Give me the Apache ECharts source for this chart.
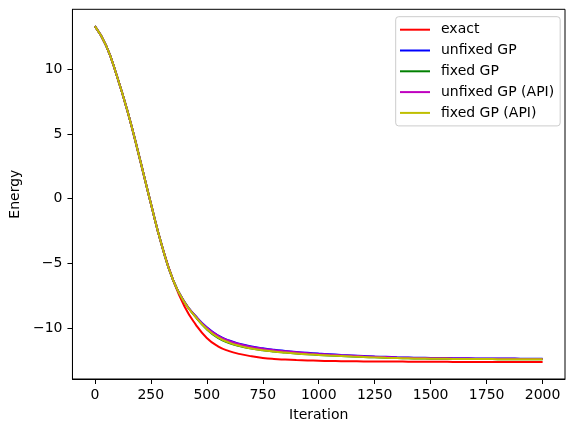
<!DOCTYPE html>
<html>
<head>
<meta charset="utf-8">
<script src="https://cdn.jsdelivr.net/npm/echarts@6/dist/echarts.min.js"></script>
<style>
html,body{margin:0;padding:0;background:#fff;}
#chart{width:574px;height:432px;}
</style>
</head>
<body>
<div id="chart"></div>
<script>
// ---- data ----
const iterations = [0,50,100,150,200,250,300,350,400,450,500,550,600,650,700,750,800,850,900,950,1000,
  1050,1100,1150,1200,1250,1300,1350,1400,1450,1500,1550,1600,1650,1700,1750,1800,1850,1900,1950,2000];
// shared start (iterations 0..350)
const common = [13.33,11.85,9.4,6.5,3.15,-0.35,-3.65,-6.3];
// iterations 400..2000
const exactTail = [-8.3,-9.7,-10.75,-11.4,-11.77,-12.0,-12.17,-12.29,-12.37,-12.42,-12.46,-12.49,-12.51,
  -12.53,-12.54,-12.55,-12.56,-12.56,-12.57,-12.57,-12.58,-12.58,-12.59,-12.59,
  -12.6,-12.6,-12.6,-12.6,-12.6,-12.6,-12.6,-12.6,-12.6];
const unfixedGPTail = [-7.97,-9.05,-9.93,-10.55,-10.95,-11.22,-11.41,-11.55,-11.66,-11.75,-11.83,-11.9,-11.96,
  -12.01,-12.06,-12.1,-12.14,-12.18,-12.21,-12.24,-12.26,-12.28,-12.29,-12.3,
  -12.31,-12.32,-12.33,-12.33,-12.34,-12.34,-12.35,-12.35,-12.35];
const fixedGPTail = [-7.96,-9.13,-10.08,-10.74,-11.14,-11.4,-11.57,-11.7,-11.8,-11.88,-11.95,-12.01,-12.06,
  -12.11,-12.15,-12.19,-12.22,-12.25,-12.28,-12.3,-12.32,-12.34,-12.35,-12.36,
  -12.37,-12.37,-12.38,-12.38,-12.39,-12.39,-12.4,-12.4,-12.4];
const unfixedAPITail = [-7.98,-9.07,-9.96,-10.58,-10.98,-11.25,-11.44,-11.58,-11.69,-11.78,-11.86,-11.93,-11.99,
  -12.04,-12.09,-12.13,-12.17,-12.2,-12.23,-12.26,-12.28,-12.3,-12.31,-12.32,
  -12.33,-12.34,-12.35,-12.35,-12.36,-12.36,-12.37,-12.37,-12.37];
const fixedAPITail = [-8.0,-9.12,-10.06,-10.71,-11.11,-11.38,-11.56,-11.69,-11.8,-11.88,-11.95,-12.01,-12.06,
  -12.11,-12.15,-12.19,-12.22,-12.25,-12.28,-12.3,-12.32,-12.34,-12.35,-12.36,
  -12.37,-12.37,-12.38,-12.38,-12.39,-12.39,-12.4,-12.4,-12.4];
const seriesNames = ['exact','unfixed GP','fixed GP','unfixed GP (API)','fixed GP (API)'];
const seriesColors = ['#ff0000','#0000ff','#008000','#bf00bf','#bfbf00'];
const xTicks = [0,250,500,750,1000,1250,1500,1750,2000];
const yTicks = [-10,-5,0,5,10];

// ---- build ----
const tails = [exactTail, unfixedGPTail, fixedGPTail, unfixedAPITail, fixedAPITail];
function pairs(tail){
  const vals = common.concat(tail);
  return iterations.map((x,i)=>[x, vals[i]]);
}
const font = 'DejaVu Sans';
const chart = echarts.init(document.getElementById('chart'), null, {renderer:'canvas'});
chart.setOption({
  animation:false,
  backgroundColor:'#fff',
  textStyle:{fontFamily:font},
  grid:{left:69.3, right:9, top:9.3, bottom:53, show:true, borderColor:'#000', borderWidth:1, backgroundColor:'transparent'},
  legend:{
    orient:'vertical',
    left:395.7, top:16.7,
    data:seriesNames.map(n=>({name:n, icon:'rect'})),
    itemWidth:30, itemHeight:2, itemGap:4.8,
    padding:[5,6,5,4.3],
    backgroundColor:'rgba(255,255,255,0.8)',
    borderColor:'#cccccc', borderWidth:1, borderRadius:3,
    textStyle:{fontFamily:font, fontSize:14, color:'#000', padding:[0,0,0,6], lineHeight:16}
  },
  xAxis:{
    type:'value', min:-100, max:2100,
    name:'Iteration', nameLocation:'middle', nameGap:29,
    nameTextStyle:{fontFamily:font, fontSize:14, color:'#000'},
    axisLine:{show:true, onZero:false, lineStyle:{color:'#000', width:1}},
    axisTick:{show:true, length:5, lineStyle:{color:'#000', width:1}, customValues:xTicks},
    axisLabel:{fontFamily:font, fontSize:14, color:'#000', margin:9, customValues:xTicks,
      formatter:v=>String(v)},
    splitLine:{show:false}
  },
  yAxis:{
    type:'value', min:-13.92, max:14.63,
    name:'Energy', nameLocation:'middle', nameGap:42,
    nameTextStyle:{fontFamily:font, fontSize:14, color:'#000'},
    axisLine:{show:true, onZero:false, lineStyle:{color:'#000', width:1}},
    axisTick:{show:true, length:5, lineStyle:{color:'#000', width:1}, customValues:yTicks},
    axisLabel:{fontFamily:font, fontSize:14, color:'#000', margin:10, customValues:yTicks,
      formatter:v=> (v<0 ? '\u2212'+Math.abs(v) : String(v))},
    splitLine:{show:false}
  },
  series: seriesNames.map((n,i)=>({
    name:n, type:'line', symbol:'none', smooth:0.5,
    data:pairs(tails[i]),
    lineStyle:{color:seriesColors[i], width:2},
    itemStyle:{color:seriesColors[i]}
  }))
});
</script>
</body>
</html>
